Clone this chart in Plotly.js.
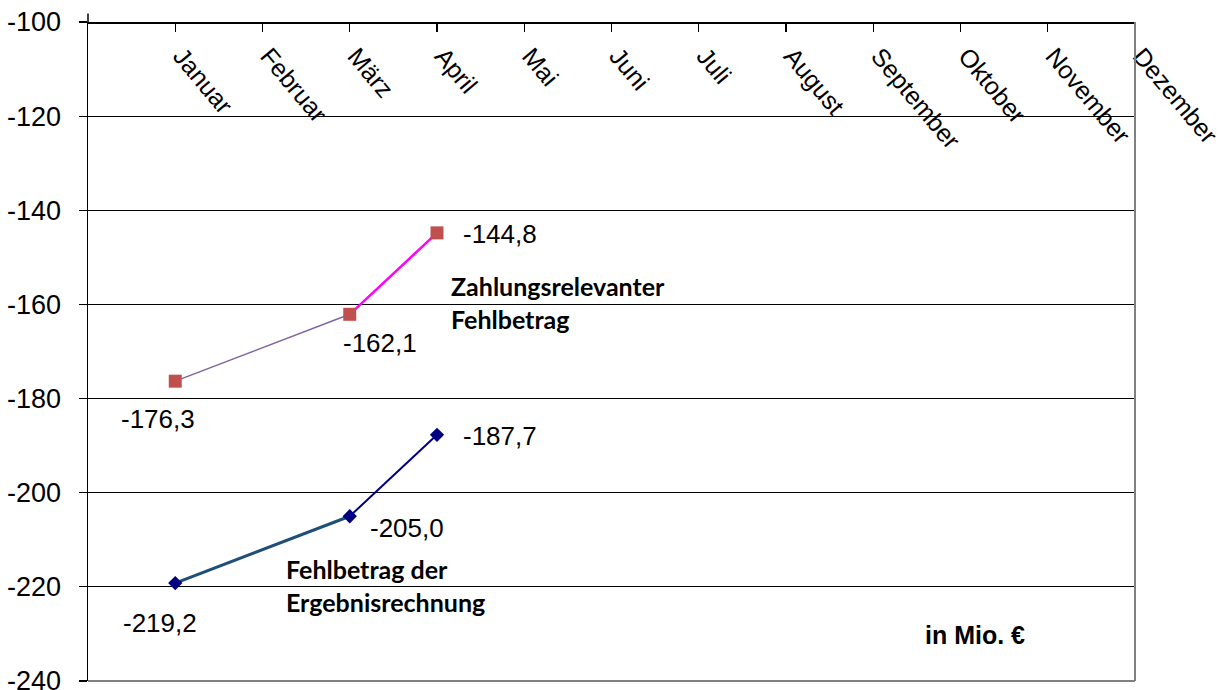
<!DOCTYPE html>
<html>
<head>
<meta charset="utf-8">
<script src="https://cdn.plot.ly/plotly-3.0.1.min.js"></script>
<style>html,body{margin:0;padding:0;background:#fff;}#chart{width:1224px;height:690px;}</style>
</head>
<body>
<div id="chart"></div>
<script>
// ---- data ----
const months = ['Januar','Februar','März','April','Mai','Juni','Juli','August','September','Oktober','November','Dezember'];
const monthPos = [1,2,3,4,5,6,7,8,9,10,11,12];
const zahlungsrelevant = [-176.3, null, -162.1, -144.8, null, null, null, null, null, null, null, null];
const ergebnisrechnung = [-219.2, null, -205.0, -187.7, null, null, null, null, null, null, null, null];
const yTickVals = [-240,-220,-200,-180,-160,-140,-120,-100];
const yTickText = ['-240','-220','-200','-180','-160','-140','-120','-100'];
const seriesNames = ['Zahlungsrelevanter<br>Fehlbetrag', 'Fehlbetrag der<br>Ergebnisrechnung'];
const unitLabel = 'in Mio. €';

function fmt(v){ return v.toFixed(1).replace('.', ','); }
function seg(arr, i, j){ return {x:[monthPos[i], monthPos[j]], y:[arr[i], arr[j]]}; }
function pts(arr){
  const x=[], y=[];
  arr.forEach((v,i)=>{ if(v!==null){ x.push(monthPos[i]); y.push(v);} });
  return {x,y};
}

const z1 = seg(zahlungsrelevant,0,2), z2 = seg(zahlungsrelevant,2,3), zp = pts(zahlungsrelevant);
const e1 = seg(ergebnisrechnung,0,2), e2 = seg(ergebnisrechnung,2,3), ep = pts(ergebnisrechnung);

const traces = [
  {x:z1.x, y:z1.y, mode:'lines', line:{color:'#8064A2', width:1.5}, hoverinfo:'skip', showlegend:false},
  {x:z2.x, y:z2.y, mode:'lines', line:{color:'#FF00FF', width:2.5}, hoverinfo:'skip', showlegend:false},
  {x:zp.x, y:zp.y, mode:'markers', marker:{symbol:'square', size:13, color:'#C0504D'}, showlegend:false},
  {x:e1.x, y:e1.y, mode:'lines', line:{color:'#1F4E79', width:3}, hoverinfo:'skip', showlegend:false},
  {x:e2.x, y:e2.y, mode:'lines', line:{color:'#000080', width:2}, hoverinfo:'skip', showlegend:false},
  {x:ep.x, y:ep.y, mode:'markers', marker:{symbol:'diamond', size:11, color:'#000080'}, showlegend:false}
];

const numFont = {family:'Liberation Sans, Arial, sans-serif', size:26, color:'#000'};
const boldFont = {family:'Lato, Open Sans, sans-serif', size:25, color:'#000'};

// label offsets (pixels) relative to points
const zOff = [[-17, 38], null, [30, 29], [63, 1]];
const eOff = [[-15, 40], null, [57, 12], [63, 1]];
const annotations = [];
zahlungsrelevant.forEach((v,i)=>{ if(v!==null && zOff[i]) annotations.push({x:monthPos[i], y:v, xref:'x', yref:'y', text:fmt(v), showarrow:true, arrowcolor:'rgba(0,0,0,0)', ax:zOff[i][0], ay:zOff[i][1], font:numFont}); });
ergebnisrechnung.forEach((v,i)=>{ if(v!==null && eOff[i]) annotations.push({x:monthPos[i], y:v, xref:'x', yref:'y', text:fmt(v), showarrow:true, arrowcolor:'rgba(0,0,0,0)', ax:eOff[i][0], ay:eOff[i][1], font:numFont}); });
annotations.push({x:4.14, y:-159.6, xref:'x', yref:'y', text:'<b>'+seriesNames[0]+'</b>', showarrow:false, xanchor:'left', yanchor:'middle', align:'left', font:boldFont});
annotations.push({x:2.25, y:-219.8, xref:'x', yref:'y', text:'<b>'+seriesNames[1]+'</b>', showarrow:false, xanchor:'left', yanchor:'middle', align:'left', font:boldFont});
annotations.push({x:10.17, y:-230.2, xref:'x', yref:'y', text:'<b>'+unitLabel+'</b>', showarrow:false, xanchor:'center', yanchor:'middle', font:{family:'Liberation Sans, Arial, sans-serif', size:25, color:'#000'}});

const layout = {
  width:1224, height:690,
  margin:{l:88, r:89, t:22, b:9, pad:0},
  paper_bgcolor:'#fff', plot_bgcolor:'#fff',
  showlegend:false,
  xaxis:{
    range:[0,12], anchor:'free', position:1, side:'bottom',
    tickmode:'array', tickvals:monthPos, ticktext:months, tickangle:50, ticklabelshift:6,
    ticks:'outside', ticklen:8, tickcolor:'#000', tickwidth:1.2,
    showline:true, linecolor:'#000', linewidth:1.5,
    showgrid:false, zeroline:false, automargin:false, ticklabeloverflow:'allow',
    tickfont:{family:'Liberation Sans, Arial, sans-serif', size:25, color:'#000'}
  },
  xaxis2:{
    range:[0,12], overlaying:'x', anchor:'free', position:1, side:'bottom',
    tickmode:'array', tickvals:monthPos, ticks:'inside', ticklen:8, tickcolor:'#000', tickwidth:1.2,
    showticklabels:false, showgrid:false, zeroline:false, showline:false, automargin:false
  },
  yaxis:{
    range:[-240,-100], tickmode:'array', tickvals:yTickVals, ticktext:yTickText,
    ticks:'outside', ticklen:8, tickcolor:'#000', tickwidth:1.2, ticklabelstandoff:12,
    showline:true, linecolor:'#000', linewidth:1.5,
    showgrid:true, gridcolor:'#000', gridwidth:1, zeroline:false, automargin:false, ticklabeloverflow:'allow',
    tickfont:{family:'Liberation Sans, Arial, sans-serif', size:27, color:'#000'}
  },
  shapes:[
    {type:'line', xref:'paper', yref:'paper', x0:1, x1:1, y0:0, y1:1, line:{color:'#808080', width:2}},
    {type:'line', xref:'paper', yref:'paper', x0:0, x1:1, y0:0, y1:0, line:{color:'#808080', width:2}},
    {type:'line', xref:'paper', yref:'paper', x0:0, x1:0, y0:1, y1:1.013, line:{color:'#000', width:1.5}}
  ],
  annotations: annotations
};

Plotly.newPlot('chart', traces, layout, {staticPlot:true, displayModeBar:false});
</script>
</body>
</html>
